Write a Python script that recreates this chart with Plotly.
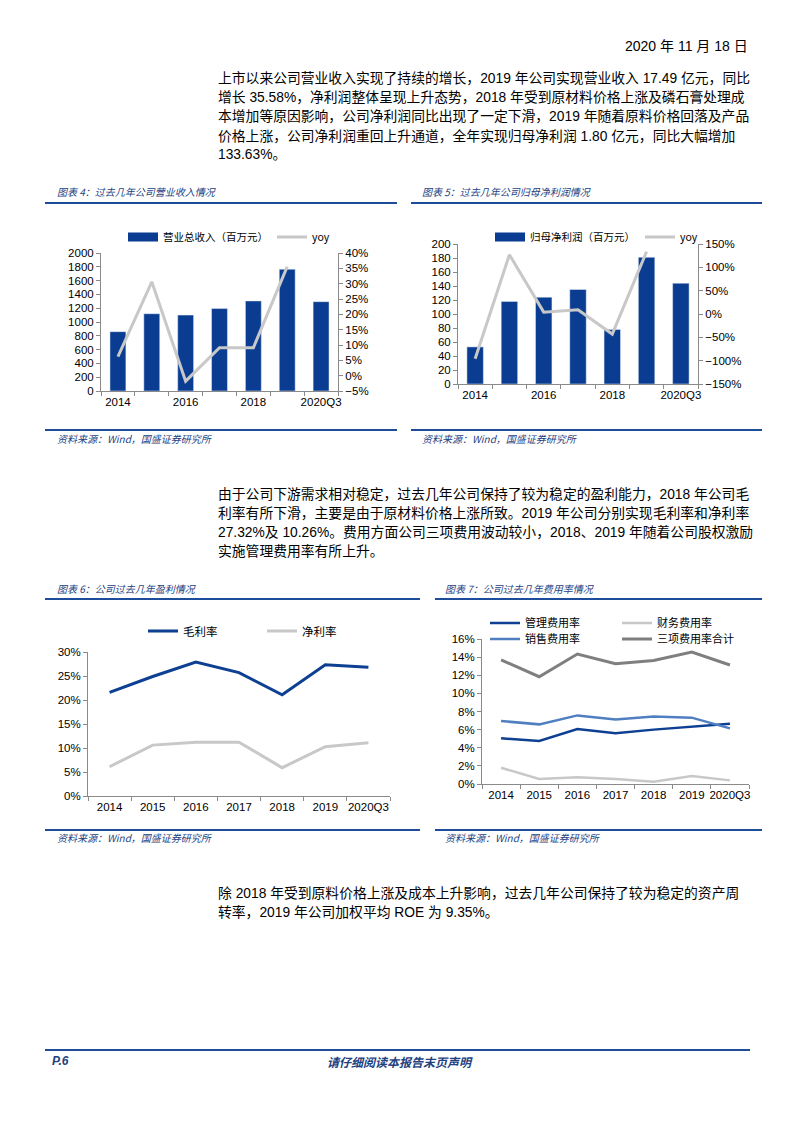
import plotly.graph_objects as go

# ---------------- data ----------------
years = ["2014", "2015", "2016", "2017", "2018", "2019", "2020Q3"]
tick_text_sparse = ["2014", "", "2016", "", "2018", "", "2020Q3"]

revenue = [860, 1120, 1100, 1195, 1305, 1765, 1295]          # 营业总收入（百万元）
revenue_yoy = [6.2, 30.6, -1.8, 9.1, 9.1, 35.58, None]        # %

net_profit = [53, 118, 124, 135, 78, 181, 144]                # 归母净利润（百万元）
net_profit_yoy = [-96, 127, 4, 9, -43, 133.63, None]          # %

gross_margin = [21.6, 24.9, 27.9, 25.7, 21.1, 27.32, 26.8]    # 毛利率 %
net_margin = [6.1, 10.6, 11.2, 11.2, 5.9, 10.26, 11.1]        # 净利率 %

mgmt_rate = [5.04, 4.74, 6.07, 5.6, 6.0, 6.36, 6.65]          # 管理费用率 %
fin_rate = [1.8, 0.55, 0.74, 0.55, 0.26, 0.88, 0.4]           # 财务费用率 %
sales_rate = [6.95, 6.58, 7.57, 7.13, 7.46, 7.32, 6.14]       # 销售费用率 %
total_rate = [13.7, 11.84, 14.34, 13.27, 13.64, 14.56, 13.13] # 三项费用率合计 %

# ---------------- style ----------------
PAGE_MARGIN = 8            # default body margin of the html page
W, H = 793 - 2 * PAGE_MARGIN + 8, 1122 - 2 * PAGE_MARGIN
BAR = "#0A3D92"
BLUE_LINE = "#0D3F92"
MID_BLUE = "#4F7FC0"
LIGHT_GRAY = "#C8C8C8"
DARK_GRAY = "#7F7F7F"
RULE = "#1C4C9A"
CAP = "#23417F"
AX = "#8A8A8A"
LATIN = "Liberation Sans, Noto Sans CJK SC, sans-serif"
CJK = "Noto Sans CJK SC, Liberation Sans, sans-serif"


def fx(px):
    return (px - PAGE_MARGIN) / W


def fy(py):
    return 1 - (py - PAGE_MARGIN) / H


fig = go.Figure()

# ---- chart 4: revenue ----
fig.add_trace(go.Bar(x=years, y=revenue, marker_color=BAR, width=0.47,
                     xaxis="x", yaxis="y", showlegend=False))
fig.add_trace(go.Scatter(x=[None], y=[None], mode="lines", line=dict(color=BAR, width=9),
                         name="营业总收入（百万元）", xaxis="x", yaxis="y", legend="legend"))
fig.add_trace(go.Scatter(x=years, y=revenue_yoy, mode="lines", line=dict(color=LIGHT_GRAY, width=3),
                         name="yoy", xaxis="x", yaxis="y2", legend="legend"))

# ---- chart 5: net profit ----
fig.add_trace(go.Bar(x=years, y=net_profit, marker_color=BAR, width=0.48,
                     xaxis="x2", yaxis="y3", showlegend=False))
fig.add_trace(go.Scatter(x=[None], y=[None], mode="lines", line=dict(color=BAR, width=9),
                         name="归母净利润（百万元）", xaxis="x2", yaxis="y3", legend="legend2"))
fig.add_trace(go.Scatter(x=years, y=net_profit_yoy, mode="lines", line=dict(color=LIGHT_GRAY, width=3),
                         name="yoy", xaxis="x2", yaxis="y4", legend="legend2"))

# ---- chart 6: margins ----
fig.add_trace(go.Scatter(x=years, y=gross_margin, mode="lines", line=dict(color=BLUE_LINE, width=3),
                         name="毛利率", xaxis="x3", yaxis="y5", legend="legend3"))
fig.add_trace(go.Scatter(x=years, y=net_margin, mode="lines", line=dict(color=LIGHT_GRAY, width=3),
                         name="净利率", xaxis="x3", yaxis="y5", legend="legend3"))

# ---- chart 7: expense rates ----
fig.add_trace(go.Scatter(x=years, y=mgmt_rate, mode="lines", line=dict(color=BLUE_LINE, width=2.5),
                         name="管理费用率", xaxis="x4", yaxis="y6", legend="legend4"))
fig.add_trace(go.Scatter(x=years, y=fin_rate, mode="lines", line=dict(color=LIGHT_GRAY, width=2.5),
                         name="财务费用率", xaxis="x4", yaxis="y6", legend="legend4"))
fig.add_trace(go.Scatter(x=years, y=sales_rate, mode="lines", line=dict(color=MID_BLUE, width=2.5),
                         name="销售费用率", xaxis="x4", yaxis="y6", legend="legend5"))
fig.add_trace(go.Scatter(x=years, y=total_rate, mode="lines", line=dict(color=DARK_GRAY, width=3),
                         name="三项费用率合计", xaxis="x4", yaxis="y6", legend="legend5"))

tickfont = dict(family=LATIN, size=11.5, color="#000000")


def xaxis_cfg(x0, x1, anchor, ticktext):
    return dict(domain=[fx(x0), fx(x1)], anchor=anchor, type="category",
                categoryorder="array", categoryarray=years,
                tickmode="array", tickvals=years, ticktext=ticktext,
                range=[-0.5, 6.5], ticks="outside", tickson="boundaries", ticklen=4,
                tickcolor=AX, showline=True, linecolor=AX, linewidth=1, tickangle=0,
                showgrid=False, zeroline=False, tickfont=tickfont, fixedrange=True,
                automargin=False)


def yaxis_cfg(top, bottom, anchor, rng, dtick, suffix=""):
    return dict(domain=[fy(bottom), fy(top)], anchor=anchor, range=rng, dtick=dtick,
                ticksuffix=suffix, ticks="outside", ticklen=4, tickcolor=AX,
                showline=True, linecolor=AX, linewidth=1, showgrid=False,
                zeroline=False, tickfont=tickfont, fixedrange=True, automargin=False)


y2 = yaxis_cfg(253, 391, "x", [-5, 40], 5, "%")
y2.pop("domain")
y2.update(overlaying="y", side="right")
y4 = yaxis_cfg(244, 384, "x2", [-150, 150], 50, "%")
y4.pop("domain")
y4.update(overlaying="y3", side="right")

legend_common = dict(orientation="h", xanchor="left", yanchor="middle",
                     bgcolor="rgba(0,0,0,0)", borderwidth=0,
                     font=dict(family=CJK, size=10.5, color="#000000"),
                     entrywidthmode="pixels", itemwidth=30, traceorder="normal")

fig.update_layout(
    width=W, height=H, margin=dict(l=0, r=0, t=0, b=0, autoexpand=False),
    paper_bgcolor="white", plot_bgcolor="white",
    showlegend=True, barmode="group",
    xaxis=xaxis_cfg(101, 338, "y", tick_text_sparse),
    yaxis=yaxis_cfg(253, 391, "x", [0, 2000], 200),
    yaxis2=y2,
    xaxis2=xaxis_cfg(458, 698, "y3", tick_text_sparse),
    yaxis3=yaxis_cfg(244, 384, "x2", [0, 200], 20),
    yaxis4=y4,
    xaxis3=xaxis_cfg(88, 390, "y5", years),
    yaxis5=yaxis_cfg(652, 796, "x3", [0, 30], 5, "%"),
    xaxis4=xaxis_cfg(482, 749, "y6", years),
    yaxis6=yaxis_cfg(639, 784, "x4", [0, 16], 2, "%"),
    legend=dict(legend_common, x=fx(123), y=fy(237), entrywidth=104),
    legend2=dict(legend_common, x=fx(490), y=fy(237), entrywidth=105),
    legend3=dict(legend_common, x=fx(143), y=fy(631), entrywidth=74,
                 font=dict(family=CJK, size=11.5, color="#000000")),
    legend4=dict(legend_common, x=fx(485), y=fy(623), entrywidth=87,
                 font=dict(family=CJK, size=11, color="#000000")),
    legend5=dict(legend_common, x=fx(485), y=fy(639), entrywidth=87,
                 font=dict(family=CJK, size=11, color="#000000")),
)

annotations = []
shapes = []


def text(x, y, s, size=14, color="#000000", family=CJK, anchor="left", style="normal", weight="normal"):
    annotations.append(dict(x=fx(x), y=fy(y), xref="paper", yref="paper", text=s,
                            showarrow=False, xanchor=anchor, yanchor="middle",
                            font=dict(family=family, size=size, color=color, style=style, weight=weight)))


def rule(x0, x1, y, width=2, color=RULE):
    shapes.append(dict(type="line", xref="paper", yref="paper", x0=fx(x0), x1=fx(x1),
                       y0=fy(y), y1=fy(y), line=dict(color=color, width=width)))


BODY = "Liberation Sans, Noto Sans CJK SC, sans-serif"

# date
text(750, 46, "2020 年 11 月 18 日", size=14, family=BODY, anchor="right")

# paragraph 1
p1 = [
    "上市以来公司营业收入实现了持续的增长，2019 年公司实现营业收入 17.49 亿元，同比",
    "增长 35.58%，净利润整体呈现上升态势，2018 年受到原材料价格上涨及磷石膏处理成",
    "本增加等原因影响，公司净利润同比出现了一定下滑，2019 年随着原料价格回落及产品",
    "价格上涨，公司净利润重回上升通道，全年实现归母净利润 1.80 亿元，同比大幅增加",
    "133.63%。",
]
for i, line in enumerate(p1):
    text(216, 78 + i * 19.2, line, size=13.8, family=BODY)

# paragraph 2
p2 = [
    "由于公司下游需求相对稳定，过去几年公司保持了较为稳定的盈利能力，2018 年公司毛",
    "利率有所下滑，主要是由于原材料价格上涨所致。2019 年公司分别实现毛利率和净利率",
    "27.32%及 10.26%。费用方面公司三项费用波动较小，2018、2019 年随着公司股权激励",
    "实施管理费用率有所上升。",
]
for i, line in enumerate(p2):
    text(216, 495 + i * 18.5, line, size=13.8, family=BODY)

# paragraph 3
p3 = [
    "除 2018 年受到原料价格上涨及成本上升影响，过去几年公司保持了较为稳定的资产周",
    "转率，2019 年公司加权平均 ROE 为 9.35%。",
]
for i, line in enumerate(p3):
    text(216, 893 + i * 18.5, line, size=13.8, family=BODY)

# chart captions and rules
text(55, 191, "图表 4：过去几年公司营业收入情况", size=10, color=CAP, style="italic")
text(420, 191, "图表 5：过去几年公司归母净利润情况", size=10, color=CAP, style="italic")
rule(45, 397, 203)
rule(411, 762, 203)
rule(45, 397, 430)
rule(411, 762, 430)
text(55, 438, "资料来源：Wind，国盛证券研究所", size=10, color=CAP, style="italic")
text(420, 438, "资料来源：Wind，国盛证券研究所", size=10, color=CAP, style="italic")

text(55, 588, "图表 6：公司过去几年盈利情况", size=10, color=CAP, style="italic")
text(443, 588, "图表 7：公司过去几年费用率情况", size=10, color=CAP, style="italic")
rule(45, 420, 599)
rule(435, 762, 599)
rule(45, 420, 830)
rule(435, 762, 830)
text(55, 837, "资料来源：Wind，国盛证券研究所", size=10, color=CAP, style="italic")
text(443, 837, "资料来源：Wind，国盛证券研究所", size=10, color=CAP, style="italic")

# footer
rule(45, 750, 1050)
text(50, 1061, "P.6", size=12, color=CAP, family=BODY, style="italic", weight="bold")
text(400, 1061, "请仔细阅读本报告末页声明", size=12, color=CAP, anchor="center", style="italic", weight="bold")

fig.update_layout(annotations=annotations, shapes=shapes)

fig.write_html("out.html")
